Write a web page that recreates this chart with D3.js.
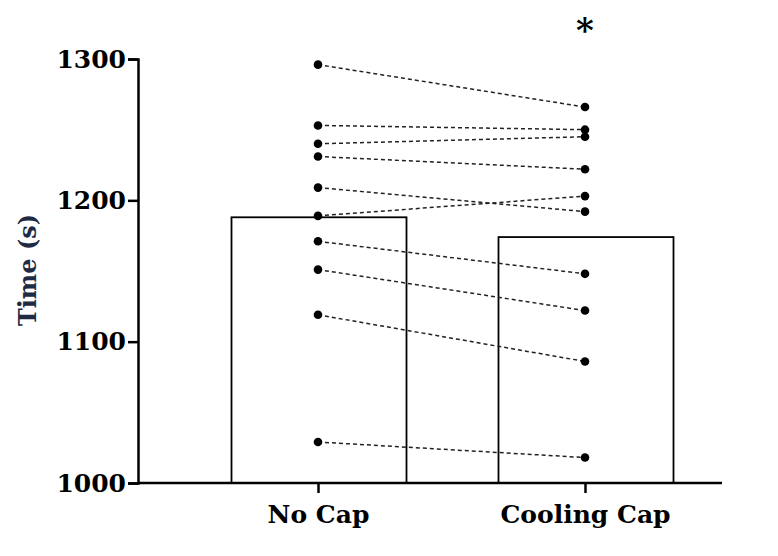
<!DOCTYPE html>
<html><head><meta charset="utf-8">
<script src="https://cdn.jsdelivr.net/npm/d3@7"></script>
<style>body{margin:0;background:#fff}</style>
</head><body><div id="app"></div>
<script>
const groups = ["No Cap", "Cooling Cap"];
const means = [1188, 1174];
const noCap = [1296, 1253, 1240, 1231, 1209, 1189, 1171, 1151, 1119, 1029];
const coolCap = [1266, 1250, 1245, 1222, 1192, 1203, 1148, 1122, 1086, 1018];
const yTicks = [1000, 1100, 1200, 1300];

const svg = d3.select("#app").append("svg").attr("width",778).attr("height",556);
const font = "'DejaVu Serif', serif";

const x = d3.scalePoint().domain(groups).range([318,585]);
const y = d3.scaleLinear().domain([1000,1300]).range([483,59]);
const bw = 175;

svg.selectAll("rect.bar").data(groups).join("rect")
	.attr("x", (d) => x(d)-bw/2+1).attr("y", (d,i) => y(means[i]))
	.attr("width", bw).attr("height", (d,i) => y(1000)-y(means[i]))
	.attr("fill","none").attr("stroke","#000").attr("stroke-width",1.8);

svg.selectAll("line.pair").data(noCap).join("line")
	.attr("x1", x(groups[0])).attr("y1", (d) => y(d))
	.attr("x2", x(groups[1])).attr("y2", (d,i) => y(coolCap[i]))
	.attr("stroke","#222").attr("stroke-width",1.5).attr("stroke-dasharray","4,3");

[noCap, coolCap].forEach((vals,g) => {
	svg.selectAll("circle.g"+g).data(vals).join("circle")
		.attr("cx", x(groups[g])).attr("cy", (d) => y(d)).attr("r",4.3).attr("fill","#000");
});

const yAxis = svg.append("g").attr("transform","translate(138,0)")
	.call(d3.axisLeft(y).tickValues(yTicks).tickSize(10).tickFormat(d3.format("d")));
const xAxis = svg.append("g").attr("transform","translate(0,483)")
	.call(d3.axisBottom(x).tickSize(10).tickPadding(12));
xAxis.select(".domain").attr("d","M138,0H722");
[yAxis, xAxis].forEach(a => {
	a.selectAll("path,line").attr("stroke","#000").attr("stroke-width",2.5);
	a.selectAll("text").attr("font-family",font).attr("font-weight","bold").attr("font-size",25).attr("fill","#000");
});
yAxis.selectAll("text").attr("x",-12);

svg.append("text").attr("transform","translate(36,270) rotate(-90)")
	.attr("text-anchor","middle").attr("font-family",font).attr("font-weight","bold")
	.attr("font-size",24).attr("fill","#1f2a44").text("Time (s)");

svg.append("text").attr("x", x(groups[1])).attr("y",42).attr("text-anchor","middle")
	.attr("font-family",font).attr("font-weight","bold").attr("font-size",34).text("*");
</script>
</body></html>
